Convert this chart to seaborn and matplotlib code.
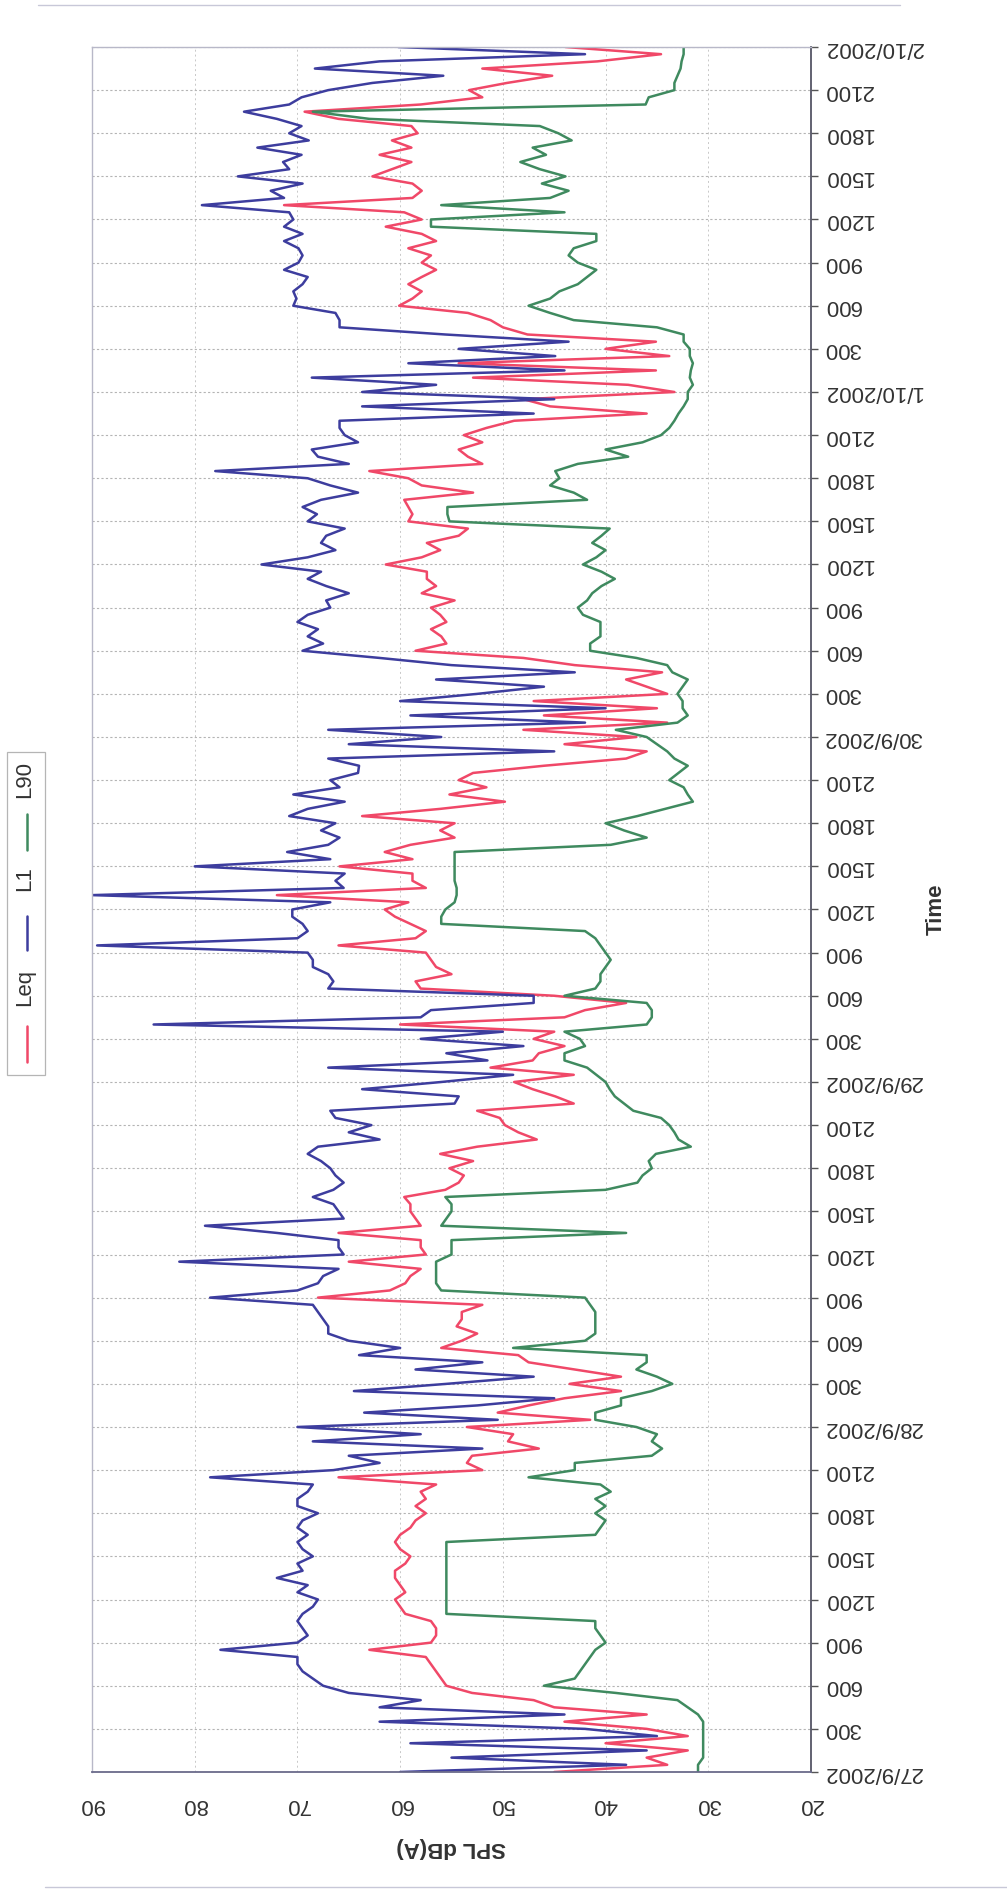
import numpy as np
import pandas as pd
import matplotlib
matplotlib.use("Agg")
import matplotlib.pyplot as plt
import seaborn as sns
from matplotlib.lines import Line2D
from matplotlib.patches import Rectangle

# ---------------- data (half-hourly readings, hours from 27/9/2002 00:00) ----------------
hours = np.arange(241) * 0.5

l1 = [60, 38, 55, 36, 59, 35, 42, 62, 44, 62, 58, 65,
      67.5, 68.5, 69.5, 70, 70, 77.5, 70, 69, 69.5, 70, 69.5, 68.5,
      68, 70, 69, 72, 69.5, 70, 68.5, 69.5, 70, 69, 70, 69.5,
      68, 70, 70, 69, 68.5, 78.5, 66.5, 62, 65, 52, 68.5, 58,
      70, 50.5, 63.5, 52.5, 45, 64.5, 55.5, 47, 58.5, 52, 64, 60,
      65, 67, 67, 67.5, 68, 68.5, 78.5, 70, 68, 67.5, 66, 81.5,
      65.5, 66, 66, 72, 79, 65.5, 66, 66.5, 68.5, 66.5, 65.5, 66.3,
      66.8, 67.7, 69, 68, 62, 65, 62.8, 66.3, 66.8, 54.7, 54.3, 63.7,
      56, 49, 67, 51.5, 55.5, 48, 58, 50, 84, 58, 57, 47,
      47, 67, 66.5, 67, 68.5, 68.5, 69, 89.5, 70, 69, 69.5, 70.5,
      70.5, 66.8, 90, 65.5, 66.3, 65.4, 80, 66.8, 71, 67, 65.9, 67.7,
      66.3, 70.8, 69, 65.4, 70.4, 65.9, 66.8, 64.1, 64, 67, 45, 65,
      56, 67, 42, 59, 40, 60, 52.5, 46, 56.5, 43, 55, 62,
      69.5, 67.5, 69, 68, 70, 69, 66.8, 67.2, 65, 67.2, 69, 67.7,
      73.5, 69, 66.3, 67.7, 67.2, 65.4, 69, 68.1, 69.5, 67.7, 64.1, 66.8,
      69, 78, 65, 68, 68.6, 64.1, 65.4, 65.9, 65.9, 47, 63.7, 45,
      63.7, 56.5, 68.6, 44, 59.2, 44.9, 54.3, 43.6, 55.6, 65.9, 65.9, 66.3,
      70.4, 70.1, 70.4, 69.5, 69, 71.3, 69.9, 69.5, 69.9, 71.3, 69.5, 71.3,
      70.4, 70.8, 79.3, 71.3, 72.6, 69.5, 75.8, 70.8, 71.4, 69.6, 73.9, 68.9,
      70.8, 69.6, 72, 75.2, 70.8, 69.6, 67, 62.7, 55.8, 68.3, 62, 42,
      60.2]

leq = [45, 34, 36, 32, 40, 32, 36, 44, 36, 45, 47, 53,
       55.5, 56, 56.5, 57, 57.5, 63, 57, 56.5, 56.5, 57, 59.5, 60,
       60.5, 59.5, 60, 60.5, 60.5, 59.5, 59, 60, 60.5, 60, 59, 58.5,
       57.5, 58.5, 57.5, 58, 56.5, 66, 52, 53.5, 53, 46.5, 49.5, 49,
       53.5, 41.5, 50.5, 47.5, 44, 38.5, 43.5, 38.5, 43, 47.5, 48.5, 56,
       54, 52.5, 54.5, 54, 54, 52, 68, 61, 59.5, 59, 58, 65,
       57.5, 58, 58, 66, 58, 58.5, 59, 59, 59.6, 55.6, 54.3, 53.8,
       55.2, 52.9, 56.1, 52.5, 46.7, 48.5, 49.8, 50.3, 52.5, 43.1, 44.9, 47.1,
       48.9, 43.1, 51.2, 47.1, 46.5, 44, 47, 45, 60, 44, 42, 38,
       45, 58, 58.5, 55, 56.5, 57, 57.5, 66, 58.5, 57.5, 59, 60.5,
       61.5, 59.2, 72, 57.5, 58.8, 58.8, 65.9, 58.8, 61.5, 59, 54.7, 56.1,
       54.7, 63.7, 56.1, 49.8, 55.2, 51.6, 54.3, 52.9, 46, 38, 36, 44,
       37, 48, 34, 46, 35, 47, 34, 36, 38, 34.5, 43, 48,
       58.5, 55.5, 56, 57, 55.5, 56.1, 57, 54.7, 57.9, 56.5, 57.4, 57.4,
       61.4, 57.9, 56.1, 57.4, 54.3, 53.4, 59.2, 58.8, 59.2, 59.6, 52.9, 57.9,
       59.2, 63, 52, 53.4, 54.3, 52, 53.8, 51.6, 48.9, 36, 45.4, 48,
       33.3, 37.8, 52.9, 35.1, 54.3, 33.8, 40, 35.1, 47.6, 50, 51.2, 53.4,
       60.1, 58.8, 57.9, 59.2, 57.9, 56.5, 57.9, 57, 59.2, 56.5, 57.9, 61.4,
       57.9, 59.6, 71.3, 58.8, 57.9, 58.8, 62.7, 60.8, 58.9, 62, 58.9, 60.8,
       58.3, 58.9, 66, 69.3, 58, 52, 53.3, 49.6, 45.2, 52, 40.8, 34.6,
       43.9]

l90 = [31, 31, 30.5, 30.5, 30.5, 30.5, 30.5, 30.5, 31, 32, 33, 39,
       46, 43, 42.5, 42, 41.5, 41, 40, 40.5, 41, 41, 55.5, 55.5,
       55.5, 55.5, 55.5, 55.5, 55.5, 55.5, 55.5, 55.5, 55.5, 41, 40.5, 40,
       41, 40, 41, 39.5, 40.5, 47.5, 43, 43, 35.5, 34.5, 35.5, 35,
       37, 41, 41, 38.5, 38.5, 35.5, 33.5, 35, 37, 36, 36, 49,
       42, 41, 41, 41, 41, 41.5, 42, 56, 56.5, 56.5, 56.5, 56.5,
       55, 55, 55, 38, 56, 55.5, 55, 55, 55.6, 40, 36.9, 36.4,
       35.5, 35.8, 35.1, 31.7, 32.9, 33.3, 33.8, 34.6, 37.3, 38.2, 39.1, 39.6,
       40, 40.9, 41.8, 44, 44, 42, 42.5, 44, 36, 35.5, 35.5, 36,
       44, 41, 40.5, 40.5, 40, 39.5, 40, 40.5, 41, 42, 56, 56,
       55.6, 54.7, 54.5, 54.5, 54.7, 54.7, 54.7, 54.7, 54.7, 39.5, 36, 38.2,
       40, 36.9, 34.2, 31.5, 32, 32.4, 33.8, 32.9, 32, 33.3, 34, 35,
       36, 39, 33, 32, 32.5, 32.5, 33, 32.5, 32, 33.5, 34, 37,
       41.5, 41.5, 40.5, 40.5, 40.5, 42.2, 42.7, 41.8, 41.3, 40.4, 39.1, 40.4,
       42.2, 40.9, 40, 41.3, 40.4, 39.6, 55.2, 55.4, 55.4, 41.8, 43.1, 45.4,
       44.5, 44.9, 42.7, 37.8, 40, 36.4, 34.6, 33.8, 33.3, 32.9, 32.4, 32,
       32, 31.5, 31.8, 31.7, 31.5, 31.8, 31.8, 32.4, 32.4, 35, 43.1, 45.4,
       47.5, 45.4, 44.5, 42.7, 41.8, 40.9, 42.7, 43.6, 43.1, 40.9, 40.9, 57,
       57, 44, 56, 45.4, 43.6, 46.2, 43.9, 46.4, 48.3, 45.8, 47.1, 43.3,
       44.6, 46.4, 63, 68.5, 36.1, 35.8, 33.3, 33.3, 33, 32.7, 32.6, 32.4,
       32.4]

series_names = ["Leq", "L1", "L90"]
series_colors = ["#f04868", "#3d3d9e", "#3f8a5f"]

time_ticks = list(range(0, 121, 3))
time_labels = ["27/9/2002", "300", "600", "900", "1200", "1500", "1800", "2100",
               "28/9/2002", "300", "600", "900", "1200", "1500", "1800", "2100",
               "29/9/2002", "300", "600", "900", "1200", "1500", "1800", "2100",
               "30/9/2002", "300", "600", "900", "1200", "1500", "1800", "2100",
               "1/10/2002", "300", "600", "900", "1200", "1500", "1800", "2100",
               "2/10/2002"]
db_ticks = [90, 80, 70, 60, 50, 40, 30, 20]

# ---------------- figure ----------------
sns.set_style("white")
plt.rcParams["font.family"] = ["Liberation Sans", "DejaVu Sans"]

W, H = 1007, 1894
fig = plt.figure(figsize=(W / 100, H / 100), dpi=100)
fig.patch.set_facecolor("white")

def fx(px):
    return px / W

def fy(py):
    return 1 - py / H

ax_l, ax_r, ax_t, ax_b = 92, 811, 47, 1772
ax = fig.add_axes([fx(ax_l), fy(ax_b), fx(ax_r - ax_l), (ax_b - ax_t) / H])

df = pd.DataFrame({"hours": hours, "Leq": leq, "L1": l1, "L90": l90})
long = df.melt(id_vars="hours", var_name="series", value_name="spl")

sns.lineplot(data=long, x="spl", y="hours", hue="series", hue_order=series_names,
             palette=dict(zip(series_names, series_colors)), orient="y",
             estimator=None, sort=True, linewidth=1.8, legend=False, ax=ax)

ax.set_xlim(90, 20)
ax.set_ylim(0, 120)

# dB axis (bottom)
ax.set_xticks(db_ticks)
ax.set_xticklabels([str(v) for v in db_ticks], rotation=180, fontsize=16, color="#333333")
ax.tick_params(axis="x", length=0, pad=16)

# time axis (right)
ax.yaxis.tick_right()
ax.set_yticks(time_ticks)
ax.set_yticklabels(time_labels, rotation=180, fontsize=16, color="#333333", va="center")
ax.tick_params(axis="y", which="both", direction="out", length=5, width=1,
               color="#555555", pad=4, left=False, right=True)

ax.set_xlabel("")
ax.set_ylabel("")

ax.grid(True, axis="y", color="#b4b4b4", linestyle=(0, (2, 2)), linewidth=0.8)
ax.grid(True, axis="x", color="#c8c8c8", linestyle=(0, (2, 3)), linewidth=0.7)
ax.set_axisbelow(True)

for side in ["top", "left"]:
    ax.spines[side].set_color("#b8b8c8")
    ax.spines[side].set_linewidth(1.0)
ax.spines["right"].set_color("#555566")
ax.spines["right"].set_linewidth(1.3)
ax.spines["bottom"].set_color("#6a6a8a")
ax.spines["bottom"].set_linewidth(1.3)

# axis titles (rotated like the scanned page)
fig.text(fx(451), fy(1847), "SPL dB(A)", rotation=180, fontsize=16, fontweight="bold",
         ha="center", va="center", color="#333333")
fig.text(fx(936), fy(909), "Time", rotation=90, fontsize=16, fontweight="bold",
         ha="center", va="center", color="#333333")

# legend (vertical, reading bottom-to-top)
fig.patches.append(Rectangle((fx(7), fy(1075)), fx(38), (1075 - 752) / H,
                             transform=fig.transFigure, fill=False,
                             edgecolor="#b5b5b5", linewidth=0.9))
legend_items = [("Leq", series_colors[0], 1062, 1026, 987),
                ("L1", series_colors[1], 950, 916, 879),
                ("L90", series_colors[2], 850, 814, 779)]
for name, col, y0, y1, ty in legend_items:
    fig.add_artist(Line2D([fx(27), fx(27)], [fy(y0), fy(y1)], transform=fig.transFigure,
                          color=col, linewidth=1.8))
    fig.text(fx(25), fy(ty), name, rotation=90, fontsize=16, ha="center", va="center",
             color="#333333")

# faint page frame lines of the scan
fig.add_artist(Line2D([fx(38), fx(900)], [fy(5), fy(5)], transform=fig.transFigure,
                      color="#c8c8d8", linewidth=1.0))
fig.add_artist(Line2D([fx(45), fx(1007)], [fy(1887), fy(1887)], transform=fig.transFigure,
                      color="#c8c8d8", linewidth=1.0))

fig.savefig("out.png", dpi=100, facecolor="white")
